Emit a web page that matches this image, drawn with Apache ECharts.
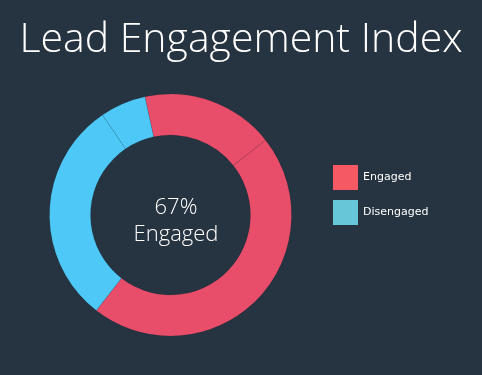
<!DOCTYPE html>
<html>
<head>
<meta charset="utf-8">
<script src="https://cdn.jsdelivr.net/npm/echarts@6/dist/echarts.min.js"></script>
<style>
html,body{margin:0;padding:0;background:#263341;}
#c{width:482px;height:375px;}
</style>
</head>
<body>
<div id="c"></div>
<script>
var titleText = 'Lead Engagement Index';
var centerLabel = '67%';
var centerCaption = 'Engaged';
var legendNames = ['Engaged', 'Disengaged'];
var legendColors = ['#F55A64', '#65C7D7'];
var sliceNames = ['Engaged', 'Engaged', 'Disengaged', 'Disengaged'];
var sliceValues = [64, 166, 108, 22];
var sliceColors = ['#E84E6A', '#E84E6A', '#4EC8F7', '#4EC8F7'];

var chart = echarts.init(document.getElementById('c'), null, {renderer: 'canvas'});
chart.setOption({
  backgroundColor: '#263341',
  animation: false,
  title: [{
    text: titleText,
    left: 'center',
    top: 15,
    textStyle: {color: '#ffffff', fontSize: 41, fontWeight: 300, fontFamily: 'Open Sans'}
  }, {
    text: centerLabel + '\n' + centerCaption,
    left: 171,
    top: 189,
    textAlign: 'center',
    textStyle: {color: '#ffffff', fontSize: 22, fontWeight: 300, fontFamily: 'Open Sans', lineHeight: 27, align: 'center'}
  }],
  legend: {
    orient: 'vertical',
    left: 328,
    top: 160,
    itemWidth: 25,
    itemHeight: 25,
    itemGap: 10,
    icon: 'rect',
    textStyle: {color: '#ffffff', fontSize: 11, fontFamily: 'DejaVu Sans', padding: [2, 0, 0, 0]},
    data: legendNames.map(function (n, i) {
      return {name: n, itemStyle: {color: legendColors[i], borderWidth: 0}};
    })
  },
  series: [{
    type: 'pie',
    center: [170.5, 215],
    radius: [80, 121],
    startAngle: 102.2,
    clockwise: true,
    label: {show: false},
    labelLine: {show: false},
    emphasis: {disabled: true},
    data: sliceValues.map(function (v, i) {
      return {
        name: sliceNames[i],
        value: v,
        itemStyle: {color: sliceColors[i], borderColor: 'rgba(0,0,0,0.08)', borderWidth: 1}
      };
    })
  }]
});
</script>
</body>
</html>
